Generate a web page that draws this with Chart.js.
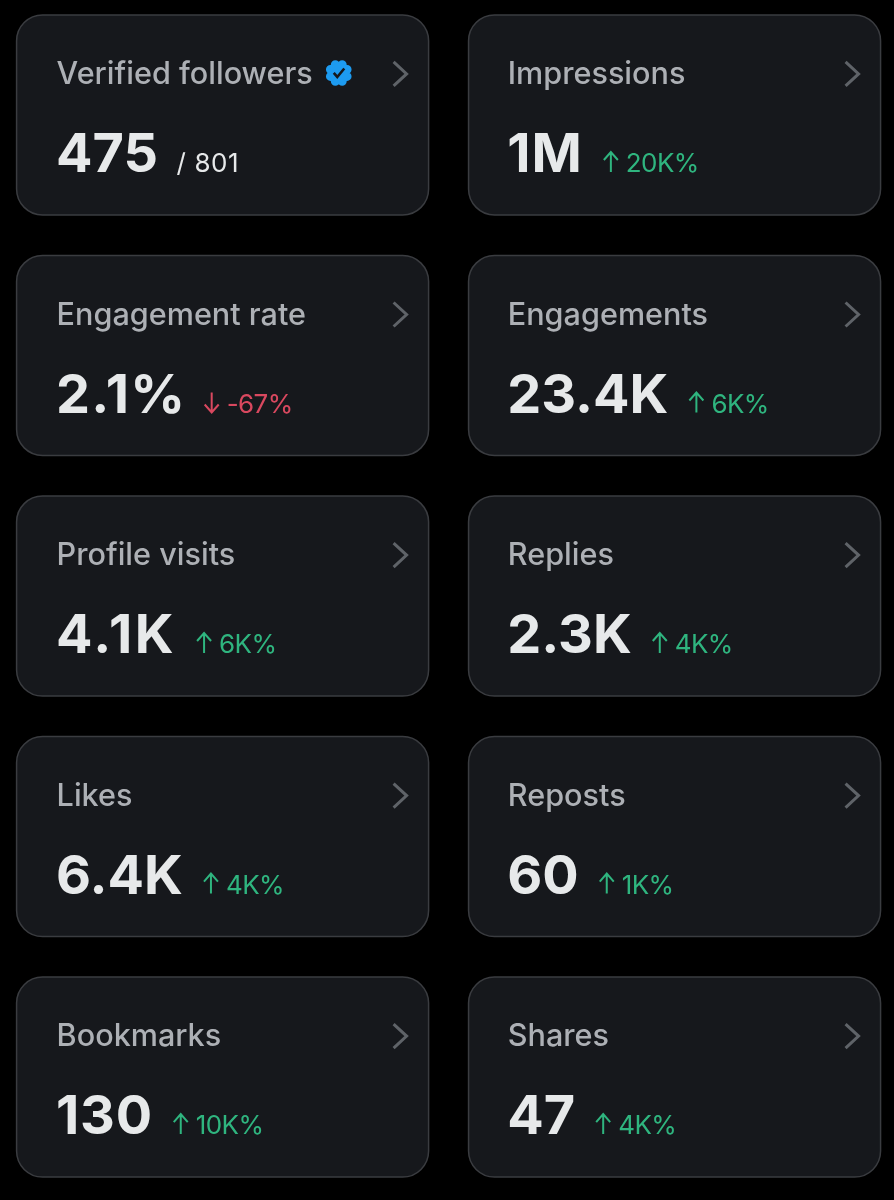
<!DOCTYPE html>
<html>
<head>
<meta charset="utf-8">
<title>Account analytics</title>
<script src="https://cdn.jsdelivr.net/npm/chart.js@4"></script>
<style>
  html, body { margin: 0; padding: 0; background: #000; }
  canvas { display: block; }
</style>
</head>
<body>
<canvas id="cards" width="894" height="1200" role="img" aria-label="Account analytics metric cards"></canvas>
<script>
const metricNames = ["Verified followers", "Impressions", "Engagement rate", "Engagements", "Profile visits", "Replies", "Likes", "Reposts", "Bookmarks", "Shares"];
const metricValues = ["475", "1M", "2.1%", "23.4K", "4.1K", "2.3K", "6.4K", "60", "130", "47"];
const metricChanges = ["/ 801", "20K%", "-67%", "6K%", "6K%", "4K%", "4K%", "1K%", "10K%", "4K%"];
const changeDirections = ["none", "up", "down", "up", "up", "up", "up", "up", "up", "up"];

const FONT = "Inter, 'Liberation Sans', sans-serif";
const CARD_W = 412;
const CARD_H = 200;
const changeColors = { none: "#e7e9ea", up: "#2fb57f", down: "#d9485f" };
// the original face has a wider "1" than Inter
const valueTracking = { "1M": 1, "2.1%": 1.2, "4.1K": 2.5, "130": 0.7 };

function roundedCard(ctx, cx, cy) {
  ctx.beginPath();
  ctx.roundRect(cx - CARD_W / 2, cy - CARD_H / 2, CARD_W, CARD_H, 26);
  ctx.fillStyle = "#16181c";
  ctx.fill();
  ctx.lineWidth = 1.5;
  ctx.strokeStyle = "#3a3c40";
  ctx.stroke();
}

function chevron(ctx, x, y) {
  ctx.beginPath();
  ctx.moveTo(x, y - 12);
  ctx.lineTo(x + 13, y);
  ctx.lineTo(x, y + 12);
  ctx.lineWidth = 3;
  ctx.strokeStyle = "#5f6368";
  ctx.stroke();
}

function badge(ctx, cx, cy) {
  // scalloped verified badge
  ctx.fillStyle = "#1d9bf0";
  ctx.beginPath();
  for (let a = 0; a < 8; a++) {
    const t = a * Math.PI / 4 + Math.PI / 8;
    ctx.moveTo(cx + Math.cos(t) * 9, cy + Math.sin(t) * 9);
    ctx.arc(cx + Math.cos(t) * 9, cy + Math.sin(t) * 9, 4.5, 0, Math.PI * 2);
  }
  ctx.fill();
  ctx.beginPath();
  ctx.arc(cx, cy, 10, 0, Math.PI * 2);
  ctx.fill();
  ctx.beginPath();
  ctx.moveTo(cx - 5, cy);
  ctx.lineTo(cx - 1.5, cy + 4);
  ctx.lineTo(cx + 5.5, cy - 4.5);
  ctx.lineWidth = 2.6;
  ctx.strokeStyle = "#16181c";
  ctx.stroke();
}

function arrow(ctx, x, baseline, up) {
  const top = baseline - 20;
  const tipY = up ? top : baseline;
  const dir = up ? 1 : -1;
  ctx.beginPath();
  ctx.moveTo(x, top);
  ctx.lineTo(x, baseline);
  ctx.moveTo(x - 7, tipY + dir * 8);
  ctx.lineTo(x, tipY);
  ctx.lineTo(x + 7, tipY + dir * 8);
  ctx.lineWidth = 2;
  ctx.stroke();
}

const cardPlugin = {
  id: "cardPlugin",
  afterDatasetsDraw(chart) {
    const { ctx, scales } = chart;
    ctx.save();
    ctx.textBaseline = "alphabetic";
    metricNames.forEach((name, i) => {
      const p = chart.data.datasets[0].data[i];
      const cx = scales.x.getPixelForValue(p.x);
      const cy = scales.y.getPixelForValue(p.y);
      const left = cx - CARD_W / 2;
      const top = cy - CARD_H / 2;
      const textX = left + 40 - (p.x === 1 ? 0.8 : 0);
      roundedCard(ctx, cx, cy);

      ctx.font = "500 30.6px " + FONT;
      ctx.letterSpacing = "0px";
      ctx.fillStyle = "#adb0b5";
      ctx.fillText(name, textX, top + 69);
      if (i === 0) {
        badge(ctx, textX + ctx.measureText(name).width + 26, top + 58);
      }
      chevron(ctx, left + 377, top + 59);

      ctx.font = "700 54px " + FONT;
      ctx.letterSpacing = (valueTracking[metricValues[i]] || 0) + "px";
      ctx.fillStyle = "#e7e9ea";
      ctx.fillText(metricValues[i], textX - 0.5, top + 157);
      let x = textX + ctx.measureText(metricValues[i]).width + 19.5;
      if (metricValues[i].endsWith("%")) x -= 2.5;

      const dir = changeDirections[i];
      ctx.font = "400 26px " + FONT;
      ctx.fillStyle = changeColors[dir];
      ctx.strokeStyle = changeColors[dir];
      if (dir !== "none") {
        ctx.letterSpacing = "-0.6px";
        arrow(ctx, x + 8, top + 157, dir === "up");
        x += 23;
      } else {
        ctx.letterSpacing = "0.6px";
        x -= 1.5;
      }
      ctx.fillText(metricChanges[i], x, top + 157);
    });
    ctx.restore();
  }
};

new Chart(document.getElementById("cards"), {
  type: "scatter",
  data: {
    datasets: [{
      label: "Metrics",
      data: metricNames.map((n, i) => ({ x: i % 2, y: Math.floor(i / 2) })),
      pointRadius: 0
    }]
  },
  options: {
    responsive: false,
    animation: false,
    devicePixelRatio: 1,
    layout: { padding: 0 },
    plugins: { legend: { display: false }, tooltip: { enabled: false } },
    scales: {
      x: { display: false, type: "linear", min: -0.4925, max: 1.4855 },
      y: { display: false, type: "linear", reverse: true, min: -0.478, max: 4.511 }
    }
  },
  plugins: [cardPlugin]
});
</script>
</body>
</html>
